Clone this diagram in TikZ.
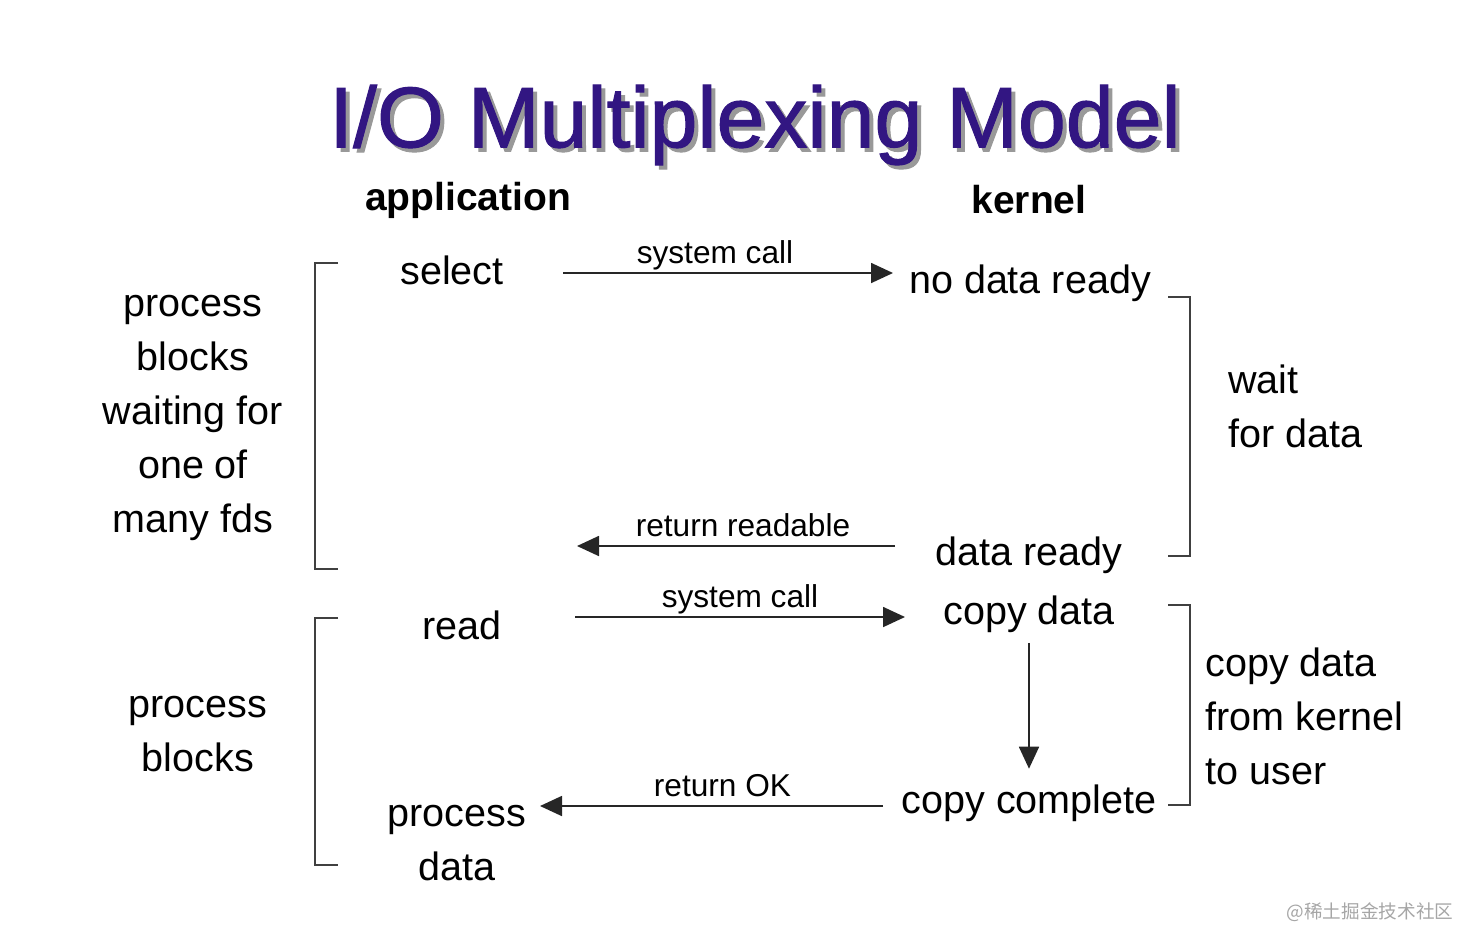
\documentclass[tikz,border=0pt]{standalone}
\usepackage{fontspec}
\setmainfont{Liberation Sans}
\newfontfamily\cjkfont{Noto Sans CJK SC}
\newfontfamily\titlefont[FakeBold=1.2]{Liberation Sans}
\usetikzlibrary{arrows.meta,positioning}
\definecolor{titleblue}{RGB}{50,22,130}

\begin{document}
\begin{tikzpicture}
[x=0.02cm,y=-0.02cm,
	every node/.style={inner sep=0pt,font=\fontsize{22.5}{30.7}\selectfont},
	stage/.style={align=center},
	side/.style={align=left,anchor=west},
	head/.style={font=\fontsize{22.2}{26}\selectfont\bfseries},
	lbl/.style={midway,anchor=base,yshift=0.2cm,font=\fontsize{18}{20}\selectfont},
	call/.style={draw=black!85,line width=1pt,-{Triangle[length=0.44cm,width=0.4cm]}},
	brack/.style={draw=black!75,line width=0.8pt}]
\useasboundingbox (0,0) rectangle (1475,948);

% title
\node[text=black!40,font=\titlefont\fontsize{49}{55}\selectfont] at (759,129) {I/O Multiplexing Model};
\node[text=titleblue,font=\titlefont\fontsize{49}{55}\selectfont] (title) at (755,125) {I/O Multiplexing Model};
\node[head] (app) at (468,200) {application};
\node[head] (kern) at (1029,200) {kernel};

% application side
\node[stage] (select) at (452,270) {select};
\node[stage] (read) at (462,625) {read};
\node[stage] (procdata) at (457,843) {process\\data};

% kernel side
\node[stage] (nodata) at (1030,283) {no data ready};
\node[stage] (ready) at (1029,555) {data ready};
\node[stage] (copydata) at (1029,614) {copy data};
\node[stage] (complete) at (1029,803) {copy complete};

% phases
\node[stage] (blockone) at (193,418) {process\\blocks\\waiting for\\one of\\many fds};
\node[stage] (blocktwo) at (198,734) {process\\blocks};
\node[side] (wait) at (1228,406) {wait\\for data};
\node[side] (copyuser) at (1205,716) {copy data\\from kernel\\to user};

% arrow ends
\coordinate (sel e) at (563,273);  \coordinate (nod w) at (893,273);
\coordinate (rdy w) at (895,546);  \coordinate (app r) at (577,546);
\coordinate (read e) at (575,617); \coordinate (cpy w) at (905,617);
\coordinate (cmp w) at (883,806);  \coordinate (proc e) at (540,806);

\draw[call] (sel e) -- node[lbl,xshift=-0.26cm] {system call} (nod w);
\draw[call] (rdy w) -- node[lbl,xshift=0.14cm] {return readable} (app r);
\draw[call] (read e) -- node[lbl] {system call} (cpy w);
\draw[call] (cmp w) -- node[lbl,xshift=0.22cm] {return OK} (proc e);
\draw[call,shorten <=0.2cm,shorten >=0.31cm] (copydata.south) -- (complete.north);

% brackets
\draw[brack] (338,263) -- (315,263) -- (315,569) -- (338,569);
\draw[brack] (338,618) -- (315,618) -- (315,865) -- (338,865);
\draw[brack] (1168,297) -- (1190,297) -- (1190,556) -- (1168,556);
\draw[brack] (1168,605) -- (1190,605) -- (1190,805) -- (1168,805);

\node[text=black!35,font=\cjkfont\fontsize{10.6}{12}\selectfont] (mark) at (1370,912) {@稀土掘金技术社区};
\end{tikzpicture}
\end{document}
